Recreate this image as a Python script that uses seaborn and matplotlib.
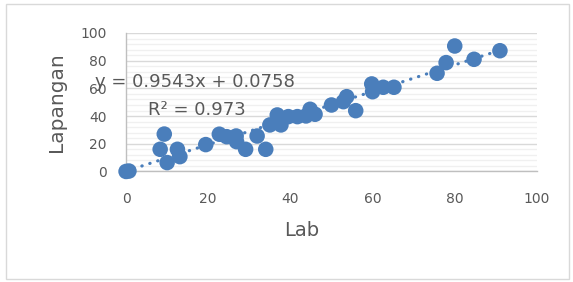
import matplotlib
matplotlib.use("Agg")
import matplotlib.pyplot as plt
import pandas as pd
import seaborn as sns
from matplotlib.patches import Rectangle
from matplotlib.ticker import MultipleLocator

# data
lab = [0, 0.7, 8.3, 9.3, 10.0, 12.5, 13.1, 19.4, 22.7, 24.5, 26.8, 26.9, 29.1,
       31.9, 34.0, 35.0, 36.8, 37.7, 39.5, 41.7, 43.8, 44.8, 46.0, 50.0, 52.9,
       53.7, 55.9, 59.8, 60.0, 62.6, 65.2, 75.7, 77.9, 80.0, 84.7, 91.0]
lapangan = [0, 0.3, 16.0, 27.0, 6.4, 16.0, 10.7, 19.4, 26.9, 25.1, 25.6, 21.5, 16.0,
            25.6, 16.0, 33.6, 40.8, 33.6, 39.6, 39.6, 40.1, 44.9, 41.3, 48.0, 50.4,
            54.0, 43.9, 63.2, 57.6, 60.8, 60.8, 70.9, 78.6, 90.6, 81.0, 87.2]
eq_text = "y = 0.9543x + 0.0758"
r2_text = "R² = 0.973"

df = pd.DataFrame({"Lab": lab, "Lapangan": lapangan})

blue = "#4a7ebb"
txt = "#595959"

sns.set_style("white")
plt.rcParams["font.family"] = ["DejaVu Sans"]

fig = plt.figure(figsize=(5.73, 2.82), dpi=100)
ax = fig.add_axes([0.22, 0.392, 0.717, 0.491])

# trendline (dotted), fitted by seaborn
sns.regplot(data=df, x="Lab", y="Lapangan", scatter=False, ci=None, ax=ax,
            truncate=True,
            line_kws=dict(color=blue, lw=2.3, linestyle=(0, (0.1, 2.5)),
                          dash_capstyle="round", solid_capstyle="round"))

sns.scatterplot(data=df, x="Lab", y="Lapangan", ax=ax, color=blue, s=125,
                edgecolor="none", linewidth=0, clip_on=False, zorder=3)

ax.set_xlim(0, 100)
ax.set_ylim(0, 100)
ax.xaxis.set_major_locator(MultipleLocator(20))
ax.yaxis.set_major_locator(MultipleLocator(20))
ax.yaxis.set_minor_locator(MultipleLocator(4))
ax.grid(axis="y", which="major", color="#d9d9d9", lw=1)
ax.grid(axis="y", which="minor", color="#f0f0f0", lw=1)
ax.set_axisbelow(True)

for s in ["top", "right"]:
    ax.spines[s].set_visible(False)
for s in ["left", "bottom"]:
    ax.spines[s].set_color("#bfbfbf")
    ax.spines[s].set_linewidth(1)

ax.tick_params(axis="both", which="major", length=4, color="#bfbfbf",
               labelsize=10, labelcolor=txt, direction="out")
ax.tick_params(axis="x", pad=11)
ax.tick_params(axis="y", pad=10)
ax.tick_params(axis="y", which="minor", length=0)

ax.set_xlabel("Lab", fontsize=14, color=txt)
ax.set_ylabel("Lapangan", fontsize=14.5, color=txt)
ax.xaxis.set_label_coords(0.428, -0.36)
ax.yaxis.set_label_coords(-0.147, 0.5)

fig.text(95 / 573, 1 - 82 / 282, eq_text, fontsize=13, color=txt,
         ha="left", va="center")
fig.text(148 / 573, 1 - 110 / 282, r2_text, fontsize=13, color=txt,
         ha="left", va="center")

# outer chart border
fig.patches.append(Rectangle((6 / 573, 3 / 282), 563 / 573, 275 / 282,
                             transform=fig.transFigure, fill=False,
                             edgecolor="#d9d9d9", lw=1))

fig.savefig("out.png", dpi=100)
